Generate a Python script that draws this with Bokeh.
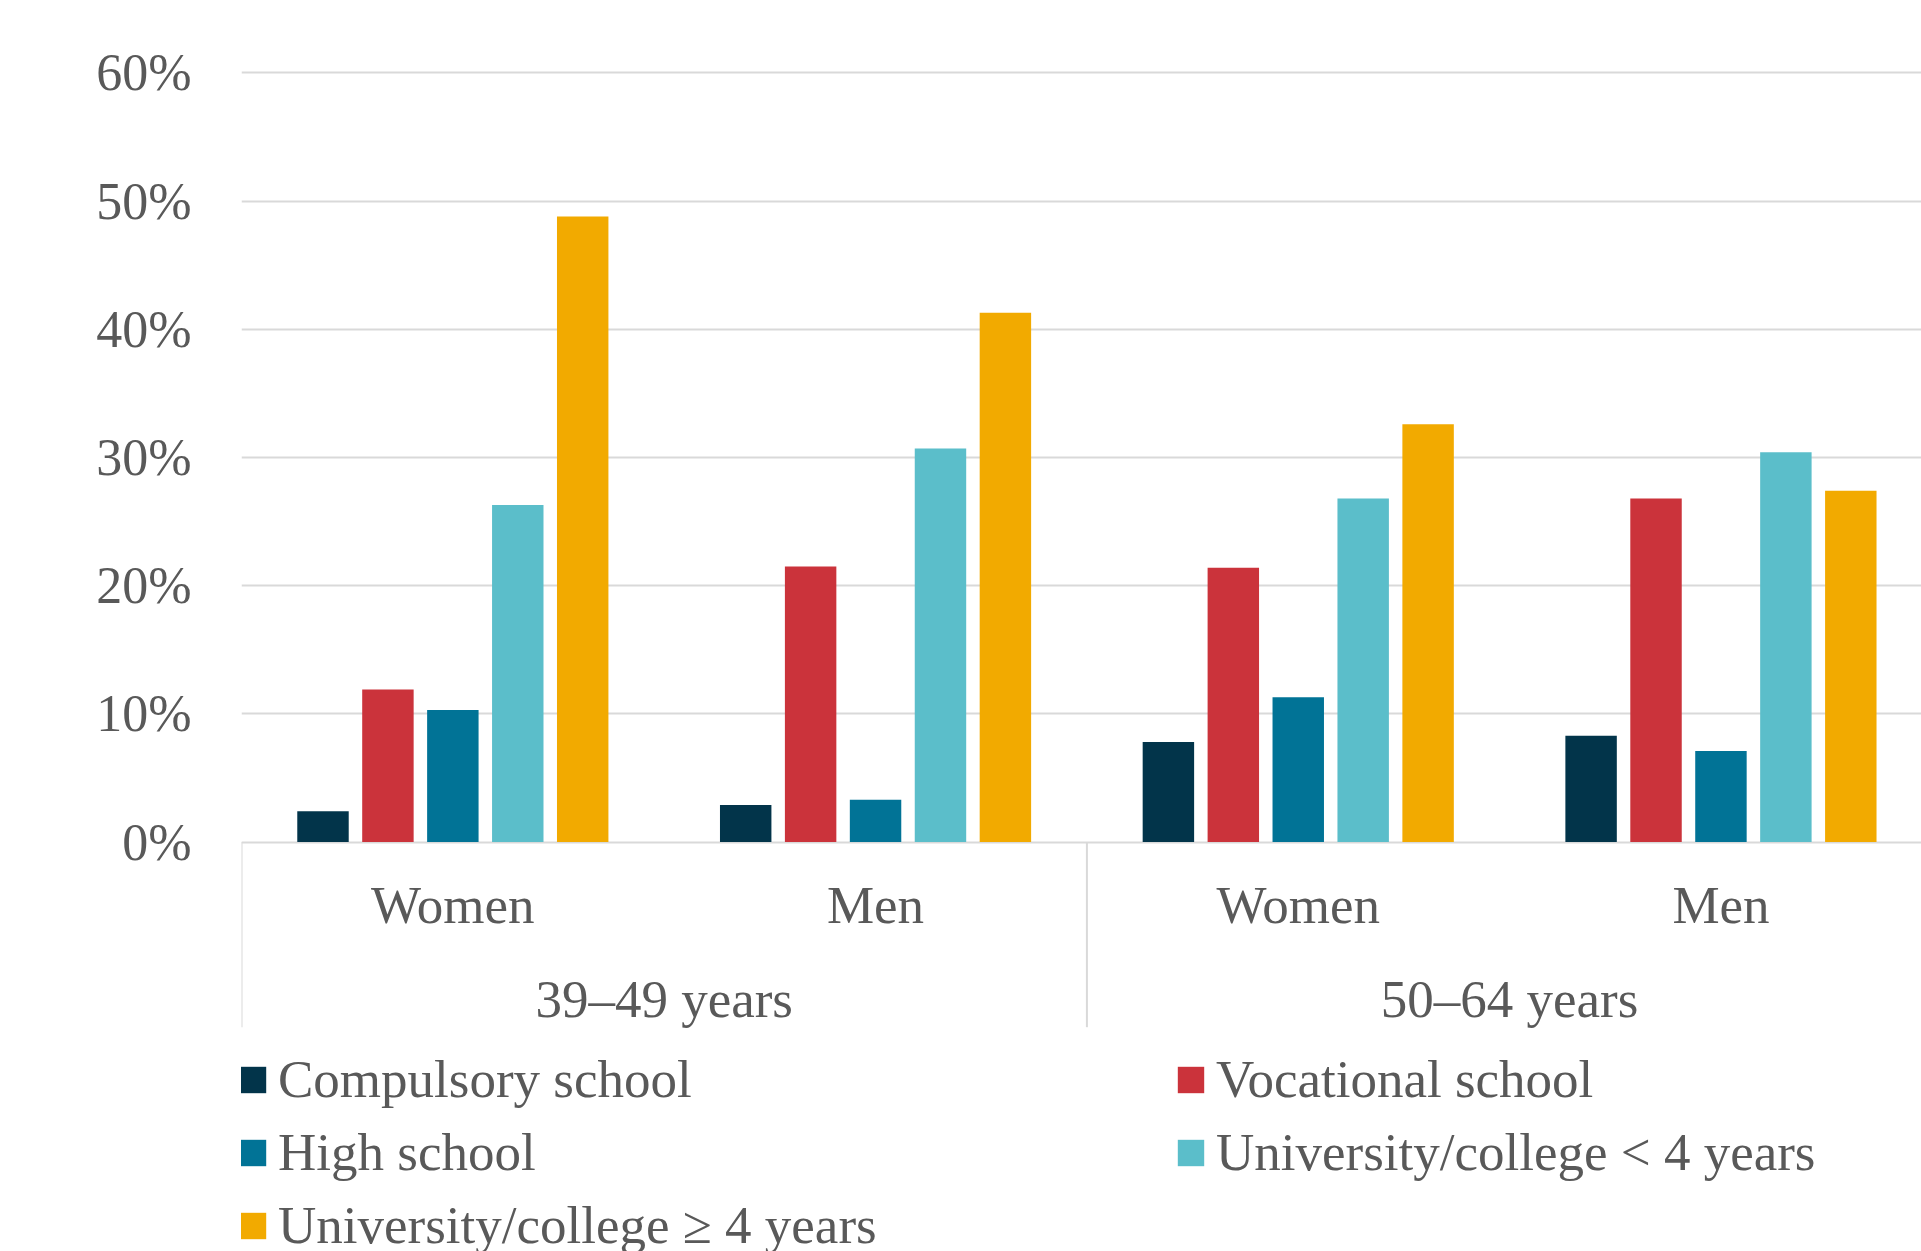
import numpy as np
from bokeh.plotting import figure
from bokeh.models import Range1d, FixedTicker, PrintfTickFormatter, Legend, LegendItem
from bokeh.core.properties import value
from bokeh.embed import file_html
from bokeh.resources import INLINE

# ---------------- data ----------------
subgroups = ["Women", "Men", "Women", "Men"]
age_groups = ["39–49 years", "50–64 years"]
series_names = ["Compulsory school", "Vocational school", "High school",
                "University/college < 4 years", "University/college ≥ 4 years"]
compulsory = [2.4, 2.9, 7.8, 8.3]
vocational = [11.9, 21.5, 21.4, 26.8]
high_school = [10.3, 3.3, 11.3, 7.1]
univ_lt4 = [26.3, 30.7, 26.8, 30.4]
univ_ge4 = [48.8, 41.3, 32.6, 27.4]
y_ticks = [0, 10, 20, 30, 40, 50, 60]

series = [compulsory, vocational, high_school, univ_lt4, univ_ge4]
colors = ["#02344A", "#CB333B", "#017396", "#5BBECA", "#F2AA00"]

# ---------------- geometry ----------------
W, H = 1921, 1251
LEFT = 241
PLOT_W = W - LEFT
CAT_PX = 422.7          # pixel width of one category
Y0_PX = 841.6           # screen y of 0 %
PX_PER = 12.82          # pixels per percentage point
BAR_STEP = 0.1536       # in category units
BAR_W = 0.1217

x_start = -0.5
x_end = x_start + PLOT_W / CAT_PX
y_end = Y0_PX / PX_PER
y_start = -(H - Y0_PX) / PX_PER


def y_at(px):
    return -(px - Y0_PX) / PX_PER


FONT = "Liberation Serif"
TXT = "#595959"
GRID = "#D9D9D9"
FS = "53px"

p = figure(width=W, height=H, output_backend="svg", toolbar_location=None,
           x_range=Range1d(x_start, x_end), y_range=Range1d(y_start, y_end),
           x_axis_location=None, y_axis_location="left",
           min_border_left=LEFT, min_border_right=0, min_border_top=0,
           min_border_bottom=0)
p.outline_line_color = None
p.background_fill_color = "white"
p.border_fill_color = "white"

yaxis = p.yaxis[0]
yaxis.ticker = FixedTicker(ticks=y_ticks)
yaxis.formatter = PrintfTickFormatter(format="%d%%")
yaxis.axis_line_color = None
yaxis.major_tick_line_color = None
yaxis.minor_tick_line_color = None
yaxis.major_label_text_font = FONT
yaxis.major_label_text_font_size = "52px"
yaxis.major_label_text_color = TXT
yaxis.major_label_standoff = 44

p.xgrid.visible = False
p.ygrid.grid_line_color = GRID
p.ygrid.grid_line_width = 2

idx = np.arange(len(subgroups))
renderers = []
for j, (vals, col) in enumerate(zip(series, colors)):
    r = p.vbar(x=idx + (j - 2) * BAR_STEP, top=vals, bottom=0, width=BAR_W,
               fill_color=col, line_color=None)
    renderers.append(r)

# separators in the category axis area
sep_x = [-0.5, 1.5, 3.5]
p.segment(x0=sep_x, y0=[0] * 3, x1=sep_x, y1=[y_at(1026.7)] * 3,
          line_color=GRID, line_width=2)

# category labels
p.text(x=idx, y=[y_at(904)] * len(idx), text=subgroups,
       text_font=value(FONT), text_font_size=FS, text_color=TXT,
       text_align="center", text_baseline="middle")
age_x = [float(np.mean(idx[2 * k:2 * k + 2])) for k in range(len(age_groups))]
p.text(x=age_x, y=[y_at(998.5)] * len(age_x), text=age_groups,
       text_font=value(FONT), text_font_size=FS, text_color=TXT,
       text_align="center", text_baseline="middle")

legend = Legend(items=[LegendItem(label=n, renderers=[r]) for n, r in zip(series_names, renderers)],
                orientation="horizontal", ncols=2,
                location=(-5, -10.5),
                label_text_font=FONT, label_text_font_size=FS,
                label_text_color=TXT, glyph_width=33, glyph_height=33,
                label_standoff=9, label_width=896, label_height=73,
                spacing=0, padding=0, margin=0,
                border_line_color=None, background_fill_alpha=0)
p.add_layout(legend)

open("out.html", "w").write(file_html(p, INLINE))
